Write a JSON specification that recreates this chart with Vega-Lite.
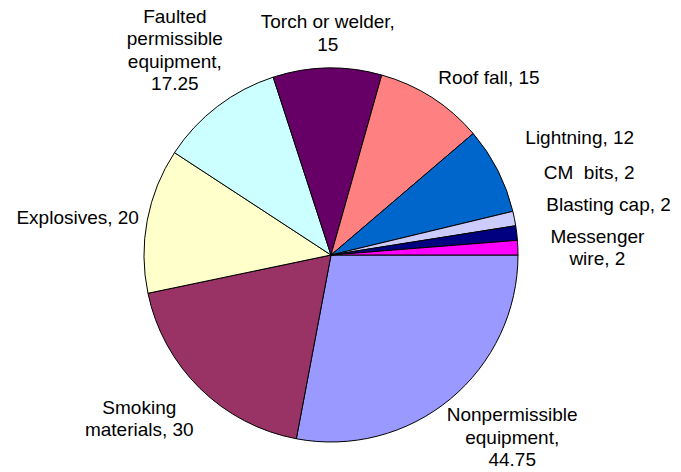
{
  "$schema": "https://vega.github.io/schema/vega-lite/v6.json",
  "width": 662,
  "height": 434,
  "padding": {"left": 0, "top": 38, "right": 19, "bottom": 0},
  "autosize": {"type": "none"},
  "background": "white",
  "config": {"view": {"stroke": null}, "text": {"font": "Liberation Sans", "fontSize": 19, "lineHeight": 22.5, "fill": "#000000"}},
  "data": {"values": [
    {"cause": "Nonpermissible equipment", "value": 44.75, "o": 1, "label": "Nonpermissible\nequipment,\n44.75"},
    {"cause": "Smoking materials", "value": 30, "o": 2, "label": "Smoking\nmaterials, 30"},
    {"cause": "Explosives", "value": 20, "o": 3, "label": "Explosives, 20"},
    {"cause": "Faulted permissible equipment", "value": 17.25, "o": 4, "label": "Faulted\npermissible\nequipment,\n17.25"},
    {"cause": "Torch or welder", "value": 15, "o": 5, "label": "Torch or welder,\n15"},
    {"cause": "Roof fall", "value": 15, "o": 6, "label": "Roof fall, 15"},
    {"cause": "Lightning", "value": 12, "o": 7, "label": "Lightning, 12"},
    {"cause": "CM bits", "value": 2, "o": 8, "label": "CM\u00a0 bits, 2"},
    {"cause": "Blasting cap", "value": 2, "o": 9, "label": "Blasting cap, 2"},
    {"cause": "Messenger wire", "value": 2, "o": 10, "label": "Messenger\nwire, 2"}
  ]},
  "encoding": {
    "theta": {"field": "value", "type": "quantitative", "stack": true, "scale": {"range": [1.5707963, 7.8539816]}},
    "order": {"field": "o", "type": "quantitative", "sort": "ascending"}
  },
  "layer": [
    {
      "mark": {"type": "arc", "outerRadius": 187, "stroke": "#000000", "strokeWidth": 1},
      "encoding": {
        "color": {"field": "cause", "type": "nominal", "legend": null,
          "scale": {
            "domain": ["Nonpermissible equipment", "Smoking materials", "Explosives", "Faulted permissible equipment", "Torch or welder", "Roof fall", "Lightning", "CM bits", "Blasting cap", "Messenger wire"],
            "range": ["#9999FF", "#993366", "#FFFFCC", "#CCFFFF", "#660066", "#FF8080", "#0066CC", "#CCCCFF", "#000080", "#FF00FF"]
          }}
      }
    },
    {"mark": {"type": "text", "radius": 242, "thetaOffset": -0.154, "align": "center", "baseline": "middle", "lineBreak": "\n"},
     "encoding": {"text": {"field": "label"}, "opacity": {"condition": {"test": "datum.o == 1", "value": 1}, "value": 0}}},
    {"mark": {"type": "text", "radius": 245, "thetaOffset": 0.123, "align": "center", "baseline": "middle", "lineBreak": "\n"},
     "encoding": {"text": {"field": "label"}, "opacity": {"condition": {"test": "datum.o == 2", "value": 1}, "value": 0}}},
    {"mark": {"type": "text", "radius": 256, "thetaOffset": -0.042, "align": "center", "baseline": "middle", "lineBreak": "\n"},
     "encoding": {"text": {"field": "label"}, "opacity": {"condition": {"test": "datum.o == 3", "value": 1}, "value": 0}}},
    {"mark": {"type": "text", "radius": 285, "thetaOffset": 0.073, "align": "center", "baseline": "middle", "lineBreak": "\n"},
     "encoding": {"text": {"field": "label"}, "opacity": {"condition": {"test": "datum.o == 4", "value": 1}, "value": 0}}},
    {"mark": {"type": "text", "radius": 233, "thetaOffset": 0.006, "align": "center", "baseline": "middle", "lineBreak": "\n"},
     "encoding": {"text": {"field": "label"}, "opacity": {"condition": {"test": "datum.o == 5", "value": 1}, "value": 0}}},
    {"mark": {"type": "text", "radius": 237, "thetaOffset": 0.16, "align": "center", "baseline": "middle", "lineBreak": "\n"},
     "encoding": {"text": {"field": "label"}, "opacity": {"condition": {"test": "datum.o == 6", "value": 1}, "value": 0}}},
    {"mark": {"type": "text", "radius": 227, "thetaOffset": -0.072, "align": "left", "baseline": "middle", "lineBreak": "\n"},
     "encoding": {"text": {"field": "label"}, "opacity": {"condition": {"test": "datum.o == 7", "value": 1}, "value": 0}}},
    {"mark": {"type": "text", "radius": 228, "thetaOffset": -0.172, "align": "left", "baseline": "middle", "lineBreak": "\n"},
     "encoding": {"text": {"field": "label"}, "opacity": {"condition": {"test": "datum.o == 8", "value": 1}, "value": 0}}},
    {"mark": {"type": "text", "radius": 221, "thetaOffset": -0.111, "align": "left", "baseline": "middle", "lineBreak": "\n"},
     "encoding": {"text": {"field": "label"}, "opacity": {"condition": {"test": "datum.o == 9", "value": 1}, "value": 0}}},
    {"mark": {"type": "text", "radius": 267, "thetaOffset": -0.029, "align": "center", "baseline": "middle", "lineBreak": "\n"},
     "encoding": {"text": {"field": "label"}, "opacity": {"condition": {"test": "datum.o == 10", "value": 1}, "value": 0}}}
  ]
}
